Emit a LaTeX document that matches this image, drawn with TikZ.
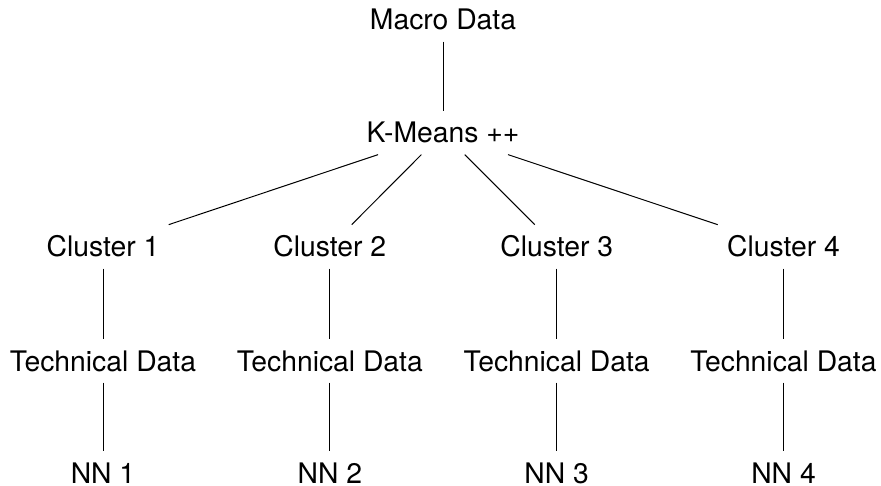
\documentclass[tikz,border=0pt]{standalone}
\usepackage{fontspec}
\setmainfont{TeX Gyre Heros}
\begin{document}
\begin{tikzpicture}[x=1pt,y=-1pt,
  lbl/.style={inner sep=11pt,anchor=base,font=\fontsize{28.3}{34}\selectfont},
  edge/.style={line width=1pt,black}]
\useasboundingbox (0,0) rectangle (881,486);
\node[lbl] (macro) at (443,30) {Macro Data};
\node[lbl] (km) at (443,143) {K-Means ++};
\foreach \i/\x in {1/103,2/329.8,3/556.7,4/783.5}{
  \node[lbl] (c\i) at (\x,257) {Cluster \i};
  \node[lbl] (t\i) at (\x,371) {Technical Data};
  \node[lbl] (n\i) at (\x,483) {NN \i};
}
\draw[edge] (macro) -- (km);
\foreach \i in {1,2,3,4}{
  \draw[edge] (km) -- (c\i);
  \draw[edge] (c\i) -- (t\i);
  \draw[edge] (t\i) -- (n\i);
}
\end{tikzpicture}
\end{document}
